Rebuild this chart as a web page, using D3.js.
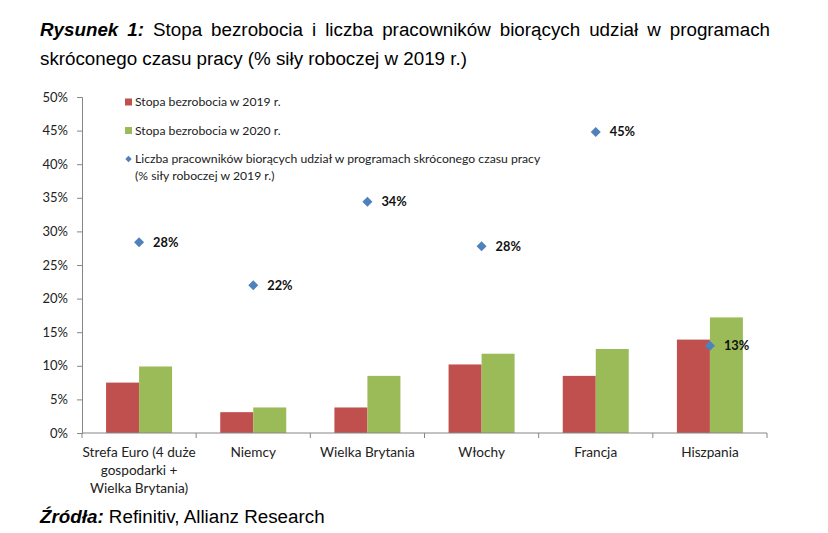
<!DOCTYPE html>
<html>
<head>
<meta charset="utf-8">
<script src="https://cdn.jsdelivr.net/npm/d3@7"></script>
<style>
  body { margin: 0; background: #fff; }
  svg { display: block; }
</style>
</head>
<body>
<div id="chart"></div>
<script>
// Unemployment vs short-time work schemes

var categories = [
  ["Strefa Euro (4 duże", "gospodarki +", "Wielka Brytania)"],
  ["Niemcy"],
  ["Wielka Brytania"],
  ["Włochy"],
  ["Francja"],
  ["Hiszpania"]
];
var rate2019 = [7.5, 3.1, 3.8, 10.2, 8.5, 13.9];
var rate2020 = [9.9, 3.8, 8.5, 11.8, 12.5, 17.2];
var shortTime = [28.4, 22.0, 34.4, 27.8, 44.8, 13.0];
var shortTimeLabels = ["28%", "22%", "34%", "28%", "45%", "13%"];
var yTicks = [0, 5, 10, 15, 20, 25, 30, 35, 40, 45, 50];
var legendLabels = [
  ["Stopa bezrobocia w 2019 r."],
  ["Stopa bezrobocia w 2020 r."],
  ["Liczba pracowników biorących udział w programach skróconego czasu pracy", "(% siły roboczej w 2019 r.)"]
];

var svgWidth = 828;
var svgHeight = 533;
var margin = { top: 97, right: 61, bottom: 100, left: 82 };
var width = svgWidth - margin.left - margin.right;
var height = 433 - margin.top;

var colors = { red: "#c0504d", green: "#9bbb59", blue: "#4f81bd", axis: "#868686" };
var chartFont = "Lato, 'Open Sans', sans-serif";
var textFont = "'Liberation Sans', Arial, sans-serif";

var svg = d3.select("#chart")
  .append("svg")
  .attr("width", svgWidth)
  .attr("height", svgHeight);

// Title, justified on the first line
var title1 = svg.append("text")
  .attr("x", 40)
  .attr("y", 36)
  .style("font-family", textFont)
  .style("font-size", "18.8px")
  .attr("fill", "#000");
title1.append("tspan").style("font-weight", "bold").style("font-style", "italic").text("Rysunek 1:");
title1.append("tspan").text(" Stopa bezrobocia i liczba pracowników biorących udział w programach");
var natural = title1.node().getComputedTextLength();
var gaps = 10;
title1.style("word-spacing", ((770 - 40 - natural) / gaps) + "px");

svg.append("text")
  .attr("x", 40)
  .attr("y", 65)
  .style("font-family", textFont)
  .style("font-size", "18.8px")
  .text("skróconego czasu pracy (% siły roboczej w 2019 r.)");

// Source
var source = svg.append("text")
  .attr("x", 40)
  .attr("y", 523)
  .style("font-family", textFont)
  .style("font-size", "18.8px");
source.append("tspan").style("font-weight", "bold").style("font-style", "italic").text("Źródła:");
source.append("tspan").text(" Refinitiv, Allianz Research");

var chartGroup = svg.append("g")
  .attr("transform", `translate(${margin.left},${margin.top})`);

var idx = categories.map((d, i) => i);

var xScale = d3.scaleBand()
  .domain(idx)
  .range([0, width]);

var barWidth = 33;

var yScale = d3.scaleLinear()
  .domain([0, 50])
  .range([height, 0]);

// y axis
var leftAxis = d3.axisLeft(yScale)
  .tickValues(yTicks)
  .tickFormat(d => d + "%")
  .tickSize(5)
  .tickPadding(9);

var yAxis = chartGroup.append("g").call(leftAxis);
yAxis.select(".domain").attr("stroke", colors.axis);
yAxis.selectAll(".tick line").attr("stroke", colors.axis);
yAxis.selectAll(".tick text")
  .style("font-family", chartFont)
  .style("font-size", "13px")
  .attr("fill", "#222");

// bars
chartGroup.selectAll(".bar2019")
  .data(rate2019)
  .enter()
  .append("rect")
  .attr("class", "bar2019")
  .attr("x", (d, i) => xScale(i) + xScale.bandwidth() / 2 - barWidth)
  .attr("y", d => yScale(d))
  .attr("width", barWidth)
  .attr("height", d => height - yScale(d))
  .attr("fill", colors.red);

chartGroup.selectAll(".bar2020")
  .data(rate2020)
  .enter()
  .append("rect")
  .attr("class", "bar2020")
  .attr("x", (d, i) => xScale(i) + xScale.bandwidth() / 2)
  .attr("y", d => yScale(d))
  .attr("width", barWidth)
  .attr("height", d => height - yScale(d))
  .attr("fill", colors.green);

// x axis (ticks at category boundaries)
var xAxis = chartGroup.append("g")
  .attr("transform", `translate(0, ${height})`);

xAxis.append("line")
  .attr("x1", 0)
  .attr("x2", width)
  .attr("stroke", colors.axis);

xAxis.selectAll(".xtick")
  .data(idx.concat([idx.length]))
  .enter()
  .append("line")
  .attr("class", "xtick")
  .attr("x1", d => d < idx.length ? xScale(d) : width)
  .attr("x2", d => d < idx.length ? xScale(d) : width)
  .attr("y1", 0)
  .attr("y2", 5)
  .attr("stroke", colors.axis);

var catLabels = xAxis.selectAll(".catlabel")
  .data(categories)
  .enter()
  .append("text")
  .attr("class", "catlabel")
  .attr("text-anchor", "middle")
  .attr("x", (d, i) => xScale(i) + xScale.bandwidth() / 2)
  .attr("y", 23.5)
  .style("font-family", chartFont)
  .style("font-size", "13.6px")
  .attr("fill", "#222");

catLabels.selectAll("tspan")
  .data(d => d)
  .enter()
  .append("tspan")
  .attr("x", function() { return this.parentNode.getAttribute("x"); })
  .attr("dy", (d, i) => i === 0 ? 0 : 18)
  .text(d => d);

// diamonds
var diamond = d3.symbol().type(d3.symbolDiamond2).size(64);

chartGroup.selectAll(".diamond")
  .data(shortTime)
  .enter()
  .append("path")
  .attr("class", "diamond")
  .attr("d", diamond)
  .attr("transform", (d, i) => `translate(${xScale(i) + xScale.bandwidth() / 2},${yScale(d)})`)
  .attr("fill", colors.blue);

chartGroup.selectAll(".dlabel")
  .data(shortTime)
  .enter()
  .append("text")
  .attr("class", "dlabel")
  .attr("x", (d, i) => xScale(i) + xScale.bandwidth() / 2 + 14)
  .attr("y", d => yScale(d) + 4.5)
  .style("font-family", chartFont)
  .style("font-size", "12.8px")
  .style("font-weight", "bold")
  .attr("fill", "#111")
  .text((d, i) => shortTimeLabels[i]);

// legend
var legend = svg.append("g")
  .attr("transform", "translate(125, 102)");

var legendRows = [0, 28.5, 57];
var legendColors = [colors.red, colors.green, colors.blue];

legendLabels.forEach((lines, i) => {
  var row = legend.append("g").attr("transform", `translate(0, ${legendRows[i]})`);
  if (i < 2) {
    row.append("rect")
      .attr("x", 0)
      .attr("y", -3.5)
      .attr("width", 7)
      .attr("height", 7)
      .attr("fill", legendColors[i]);
  } else {
    row.append("path")
      .attr("d", d3.symbol().type(d3.symbolDiamond2).size(26))
      .attr("transform", "translate(3.5,0)")
      .attr("fill", legendColors[i]);
  }
  var t = row.append("text")
    .attr("x", 10)
    .attr("y", 4)
    .style("font-family", chartFont)
    .style("font-size", "12.2px")
    .attr("fill", "#222");
  t.selectAll("tspan")
    .data(lines)
    .enter()
    .append("tspan")
    .attr("x", 10)
    .attr("dy", (d, j) => j === 0 ? 0 : 17)
    .text(d => d);
});
</script>
</body>
</html>
